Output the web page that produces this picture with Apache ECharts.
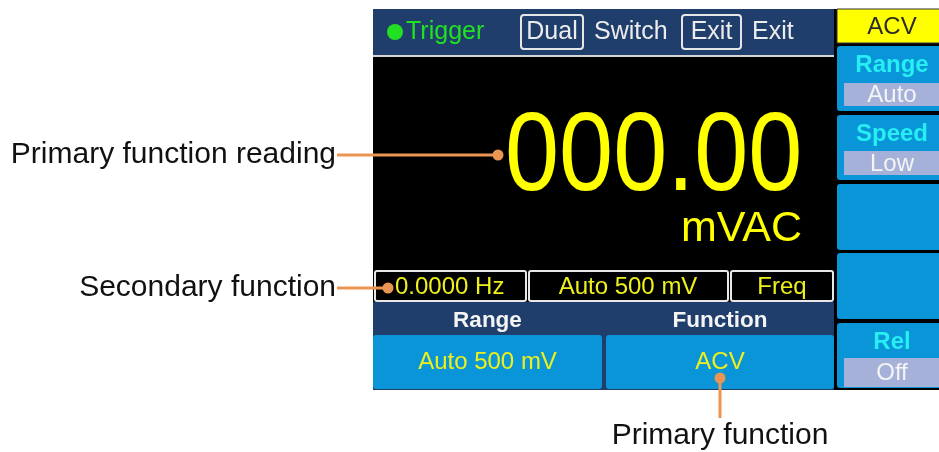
<!DOCTYPE html>
<html lang="en">
  <head>
    <meta charset="UTF-8" />
    <title>ACV display</title>
    <style>
      html, body { margin: 0; padding: 0; background: #fff; }
      #container { width: 939px; height: 452px; }
    </style>
    <script src="https://cdn.jsdelivr.net/npm/echarts@6.0.0/dist/echarts.min.js"></script>
  </head>
  <body>
    <div id="container"></div>
    <script>
      // screen texts
      const mainReading = '000.00'
      const mainUnit = 'mVAC'
      const topBarLabels = ['Trigger', 'Dual', 'Switch', 'Exit', 'Exit']
      const secondaryCells = ['0.0000 Hz', 'Auto 500 mV', 'Freq']
      const softkeyTitles = ['Range', 'Function']
      const softkeyValues = ['Auto 500 mV', 'ACV']
      const sideMenuTitle = 'ACV'
      const sideKeyNames = ['Range', 'Speed', '', '', 'Rel']
      const sideKeyValues = ['Auto', 'Low', '', '', 'Off']
      const callouts = ['Primary function reading', 'Secondary function', 'Primary function']

      const DARK = '#1f3e6c'
      const BTN = '#0a95d8'
      const CYAN = '#26eef2'
      const GREY = '#a5b1d8'
      const YEL = '#eef01c'
      const ORANGE = '#ea9552'
      const FONT = '"Liberation Sans", Arial, sans-serif'

      const chart = echarts.init(document.getElementById('container'))
      const els = []

      function rect(x, y, w, h, fill, extra) {
        els.push({
          type: 'rect',
          shape: { x: x, y: y, width: w, height: h, r: (extra && extra.r) || 0 },
          style: Object.assign({ fill: fill }, (extra && extra.style) || {}),
        })
      }
      function text(t, x, y, size, fill, align, weight, more) {
        els.push(Object.assign({
          type: 'text',
          x: x,
          y: y,
          style: {
            text: t,
            font: (weight || 'normal') + ' ' + size + 'px ' + FONT,
            fill: fill,
            align: align || 'center',
            verticalAlign: 'middle',
            textAlign: align || 'center',
            textVerticalAlign: 'middle',
          },
        }, more || {}))
      }

      // screen background
      rect(373, 9, 566, 381, '#000')
      // top bar
      rect(373, 9, 461, 46, DARK)
      rect(373, 55, 461, 2, '#d6d6d6')
      els.push({ type: 'circle', shape: { cx: 395, cy: 32, r: 8 }, style: { fill: '#22e022' } })
      text(topBarLabels[0], 406, 32, 25, '#22e022', 'left')
      rect(521, 15, 62, 34, 'none', { r: 3, style: { stroke: '#e6e6e6', lineWidth: 2 } })
      text(topBarLabels[1], 552, 32, 25, '#ececec', 'center')
      text(topBarLabels[2], 594, 32, 25, '#ececec', 'left')
      rect(682, 15, 59, 34, 'none', { r: 3, style: { stroke: '#e6e6e6', lineWidth: 2 } })
      text(topBarLabels[3], 711.5, 32, 25, '#ececec', 'center')
      text(topBarLabels[4], 752, 32, 25, '#ececec', 'left')

      // primary reading
      text(mainReading, 505, 159, 112, '#ffff00', 'left', 'normal', { scaleX: 0.868 })
      text(mainUnit, 802, 229, 43, '#ffff00', 'right')

      // secondary row
      const cellX = [[375, 526], [529, 728], [731, 833]]
      cellX.forEach(function (c) {
        rect(c[0], 271, c[1] - c[0], 30, '#000', { r: 2, style: { stroke: '#e8e8e8', lineWidth: 2 } })
      })
      text(secondaryCells[0], 395, 287, 24, YEL, 'left')
      text(secondaryCells[1], 628, 287, 24, YEL, 'center')
      text(secondaryCells[2], 782, 287, 24, YEL, 'center')

      // soft keys
      rect(373, 302, 461, 88, DARK)
      const keyX = [[373, 602], [606, 834]]
      keyX.forEach(function (k, i) {
        rect(k[0], 335, k[1] - k[0], 54, BTN, { r: 3 })
        text(softkeyTitles[i], (k[0] + k[1]) / 2, 321, 22.5, '#f4f4f4', 'center', 'bold')
        text(softkeyValues[i], (k[0] + k[1]) / 2, 362, 24, YEL, 'center')
      })

      // side menu
      rect(837, 9, 110, 34, '#ffff00', { style: { stroke: '#333', lineWidth: 1 } })
      text(sideMenuTitle, 892, 27, 24, '#2a2a2a', 'center')
      const sideY = [[46, 111], [115, 180], [184, 250], [253, 319], [323, 388]]
      const subY = [[83, 106], [151, 175], null, null, [358, 387]]
      sideY.forEach(function (s, i) {
        rect(837, s[0], 110, s[1] - s[0], BTN, { r: 3 })
        if (sideKeyNames[i]) {
          const sb = subY[i]
          const titleY = i === 4 ? 342 : s[0] + 19
          text(sideKeyNames[i], 892, titleY, 24, CYAN, 'center', 'bold')
          rect(844, sb[0], 100, sb[1] - sb[0], GREY)
          text(sideKeyValues[i], 892, (sb[0] + sb[1]) / 2 + 1, 24, '#f4f4f4', 'center')
        }
      })

      // callouts
      function line(x1, y1, x2, y2) {
        els.push({ type: 'line', shape: { x1: x1, y1: y1, x2: x2, y2: y2 }, style: { stroke: ORANGE, lineWidth: 3 } })
      }
      function dot(cx, cy) {
        els.push({ type: 'circle', shape: { cx: cx, cy: cy, r: 5.5 }, style: { fill: ORANGE } })
      }
      text(callouts[0], 336, 155, 30, '#111', 'right')
      line(337, 155, 498, 155)
      dot(498, 155)
      text(callouts[1], 336, 288, 30, '#111', 'right')
      line(337, 288, 388, 288)
      dot(388, 288)
      line(720, 378, 720, 418)
      dot(720, 378)
      text(callouts[2], 720, 436, 30, '#111', 'center')

      chart.setOption({
        backgroundColor: '#fff',
        animation: false,
        graphic: { elements: els },
      })
    </script>
  </body>
</html>
